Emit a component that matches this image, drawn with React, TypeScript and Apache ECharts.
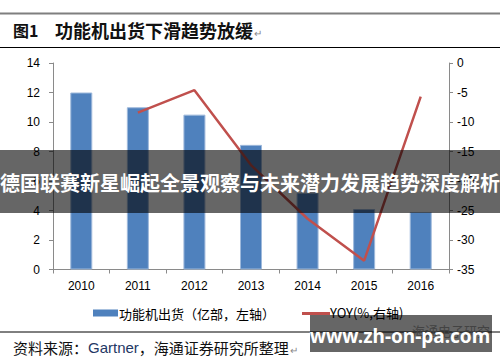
import React, { useEffect, useRef } from "react";
import * as echarts from "echarts";

const categories = ["2010", "2011", "2012", "2013", "2014", "2015", "2016"];
const shipments = [12, 11, 10.5, 8.45, 5.2, 4.1, 3.9];
const yoy = [null, -8.4, -4.6, -17.3, -26.4, -33.5, -5.7];
const leftTicks = { min: 0, max: 14, interval: 2 };
const rightTicks = { min: -35, max: 0, interval: 5 };

const figLabel = "图1";
const titleText = "功能机出货下滑趋势放缓";
const legendBar = "功能机出货（亿部，左轴）";
const legendLine = "YOY(%,右轴)";
const bannerText = "德国联赛新星崛起全景观察与未来潜力发展趋势深度解析";
const watermark = "www.zh-on-pa.com";
const faintMark = "海通电子研究";

const CJK = '"Noto Sans CJK SC", sans-serif';
const LAT = '"Liberation Sans", Arial, sans-serif';

export default function App() {
  const ref = useRef<HTMLDivElement>(null);
  useEffect(() => {
    document.body.style.margin = "0";
    if (!ref.current) return;
    const chart = echarts.init(ref.current, null, { renderer: "svg" });
    const axisLine = { show: true, lineStyle: { color: "#8a8a8a", width: 1 } };
    chart.setOption({
      animation: false,
      backgroundColor: "#ffffff",
      grid: { left: 53, right: 51, top: 63, bottom: 92.5, containLabel: false },
      xAxis: {
        type: "category",
        data: categories,
        axisLine,
        axisTick: { show: true, length: 4, lineStyle: { color: "#8a8a8a" } },
        axisLabel: { color: "#000", fontSize: 12, fontFamily: LAT, margin: 10 },
      },
      yAxis: [
        {
          type: "value",
          ...leftTicks,
          position: "left",
          axisLine,
          axisTick: { show: true, length: 4, lineStyle: { color: "#8a8a8a" } },
          splitLine: { show: false },
          axisLabel: { color: "#000", fontSize: 12, fontFamily: LAT, margin: 13 },
        },
        {
          type: "value",
          ...rightTicks,
          position: "right",
          axisLine,
          axisTick: { show: true, length: 4, lineStyle: { color: "#8a8a8a" } },
          splitLine: { show: false },
          axisLabel: { color: "#000", fontSize: 12, fontFamily: LAT, margin: 8 },
        },
      ],
      series: [
        {
          name: legendBar,
          type: "bar",
          data: shipments,
          barWidth: 22,
          itemStyle: { color: "#4F81BD", borderColor: "#9EB9DB", borderWidth: 1 },
          yAxisIndex: 0,
        },
        {
          name: legendLine,
          type: "line",
          data: yoy,
          yAxisIndex: 1,
          symbol: "none",
          lineStyle: { color: "#C0504D", width: 2.5 },
          itemStyle: { color: "#C0504D" },
          z: 3,
        },
      ],
      graphic: [
        { type: "line", z: 50, shape: { x1: 0, y1: 13.5, x2: 500, y2: 13.5 }, style: { stroke: "#7f7f7f", lineWidth: 2 } },
        { type: "text", z: 50, x: 13, y: 30, style: { text: figLabel, fill: "#111", font: `bold 16px ${CJK}`, verticalAlign: "middle" } },
        { type: "text", z: 50, x: 55, y: 30, style: { text: titleText, fill: "#111", font: `bold 18px ${CJK}`, verticalAlign: "middle" } },
        { type: "text", z: 50, x: 254, y: 32, style: { text: "↵", fill: "#888", font: `10px ${CJK}`, verticalAlign: "middle" } },
        { type: "line", z: 50, shape: { x1: 0, y1: 47.5, x2: 500, y2: 47.5 }, style: { stroke: "#000", lineWidth: 1 } },
        { type: "rect", z: 50, shape: { x: 93, y: 309.5, width: 25, height: 7 }, style: { fill: "#4F81BD" } },
        { type: "text", z: 50, x: 119, y: 313, style: { text: legendBar, fill: "#000", font: `13px ${CJK}`, verticalAlign: "middle" } },
        { type: "line", z: 50, shape: { x1: 302, y1: 313.5, x2: 330, y2: 313.5 }, style: { stroke: "#C0504D", lineWidth: 3 } },
        { type: "text", z: 50, x: 330, y: 312, style: { text: legendLine, fill: "#000", font: `13px ${CJK}`, verticalAlign: "middle" } },
        { type: "line", z: 50, shape: { x1: 0, y1: 332, x2: 500, y2: 332 }, style: { stroke: "#000", lineWidth: 1 } },
        {
          type: "text",
          z: 50,
          x: 13,
          y: 347,
          style: {
            text: "资料来源：{g|Gartner}，海通证券研究所整理",
            fill: "#111",
            font: `15px ${CJK}`,
            verticalAlign: "middle",
            rich: { g: { fill: "#1f3864", font: `15px ${LAT}` } },
          },
        },
        { type: "text", z: 50, x: 290, y: 349, style: { text: "↵", fill: "#888", font: `10px ${CJK}`, verticalAlign: "middle" } },
        { type: "text", z: 50, x: 412, y: 330, style: { text: faintMark, fill: "#a8a8a8", font: `13px ${CJK}`, verticalAlign: "middle" } },
        { type: "rect", z: 100, shape: { x: 0, y: 150, width: 500, height: 63 }, style: { fill: "rgba(0,0,0,0.6)" } },
        { type: "text", z: 101, x: 250, y: 182, style: { text: bannerText, fill: "#fff", font: `bold 20px ${CJK}`, align: "center", verticalAlign: "middle" } },
        { type: "rect", z: 100, shape: { x: 310, y: 315, width: 182, height: 37 }, style: { fill: "rgba(0,0,0,0.6)" } },
        { type: "text", z: 101, x: 400, y: 336, style: { text: watermark, fill: "#fff", font: `bold 19px "Noto Sans", sans-serif`, align: "center", verticalAlign: "middle" } },
      ],
    });
    return () => chart.dispose();
  }, []);
  return <div ref={ref} style={{ width: 500, height: 362 }} />;
}
